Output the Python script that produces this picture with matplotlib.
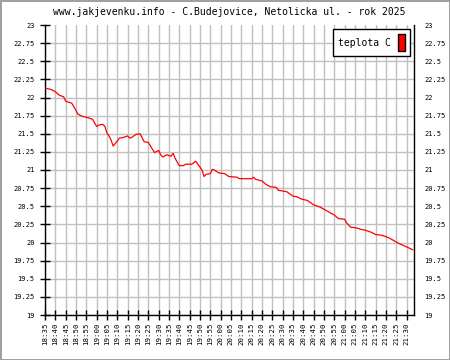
# teplota - C.Budejovice, Netolicka ul.
import matplotlib
matplotlib.use('Agg')
import matplotlib.pyplot as plt
from matplotlib.patches import Rectangle

# minuty od 18:35 a namerene teploty
minuty = [0, 3, 5, 7, 9, 10, 13, 14, 16, 18, 21, 23, 24, 25, 26, 28, 29, 30, 31, 32,
          33, 35, 36, 38, 40, 41, 42, 44, 46, 48, 50, 53, 55, 56, 57, 59, 61, 62, 63, 65,
          67, 68, 71, 72, 73, 74, 76, 77, 78, 80, 81, 82, 84, 87, 89, 93, 94, 100, 101, 102,
          105, 107, 109, 112, 113, 117, 120, 122, 124, 127, 130, 133, 135, 138, 140, 142, 145, 146, 148, 151,
          153, 155, 158, 160, 163, 166, 168, 171, 175, 178]
teplota = [22.13, 22.11, 22.08, 22.03, 22.01, 21.95, 21.92, 21.87, 21.77, 21.74, 21.72, 21.70, 21.65, 21.60, 21.62, 21.63, 21.60, 21.51, 21.47, 21.41,
           21.33, 21.40, 21.44, 21.45, 21.47, 21.44, 21.45, 21.49, 21.50, 21.39, 21.38, 21.24, 21.27, 21.21, 21.18, 21.21, 21.19, 21.23, 21.16, 21.06,
           21.06, 21.08, 21.08, 21.10, 21.12, 21.08, 21.00, 20.91, 20.94, 20.95, 21.01, 21.00, 20.96, 20.95, 20.91, 20.90, 20.88, 20.88, 20.90, 20.87,
           20.85, 20.80, 20.77, 20.76, 20.72, 20.70, 20.64, 20.63, 20.60, 20.58, 20.52, 20.49, 20.46, 20.41, 20.38, 20.33, 20.32, 20.27, 20.21, 20.20,
           20.18, 20.17, 20.14, 20.11, 20.10, 20.07, 20.04, 19.99, 19.94, 19.90]

casy = ['18:35', '18:40', '18:45', '18:50', '18:55', '19:00', '19:05', '19:10', '19:15', '19:20',
        '19:25', '19:30', '19:35', '19:40', '19:45', '19:50', '19:55', '20:00', '20:05', '20:10',
        '20:15', '20:20', '20:25', '20:30', '20:35', '20:40', '20:45', '20:50', '20:55', '21:00',
        '21:05', '21:10', '21:15', '21:20', '21:25', '21:30']
y_ticks = [19 + 0.25 * i for i in range(17)]
y_labels = ['%g' % v for v in y_ticks]

mono = 'DejaVu Sans Mono'
fig = plt.figure(figsize=(4.5, 3.6), dpi=100)
fig.patch.set_edgecolor('#a0a0a0')
fig.patch.set_linewidth(2)
ax = fig.add_axes([45 / 450, 1 - 315 / 360, 369 / 450, 290 / 360])

ax.plot(minuty, teplota, color='red', lw=0.9, zorder=3)

x_ticks = [5 * i for i in range(len(casy))]
ax.set_xticks(x_ticks)
ax.set_xticklabels(casy, rotation=90, family=mono, fontsize=5.3)
ax.set_yticks(y_ticks)
ax.set_yticklabels(y_labels, family=mono, fontsize=5)
ax.set_xlim(0, 178.6)
ax.set_ylim(19, 23)
ax.grid(True, color='#c0c0c0', lw=1)
ax.set_axisbelow(True)
# bez vodorovne cary nahore
ax.get_ygridlines()[-1].set_visible(False)

ax.tick_params(axis='both', direction='inout', length=7, width=1, pad=2)
ax.tick_params(axis='y', right=False, labelright=True, pad=4)
for s in ['left', 'bottom', 'right']:
    ax.spines[s].set_color('black')
    ax.spines[s].set_linewidth(1)
ax.spines['top'].set_visible(False)

ax.set_title('www.jakjevenku.info - C.Budejovice, Netolicka ul. - rok 2025',
             family=mono, fontsize=7, pad=7)

h = Rectangle((0, 0), 1, 1, facecolor='red', edgecolor='black', lw=1)
leg = ax.legend([h], ['teplota C'], loc='upper right', markerfirst=False,
                handlelength=0.7, handleheight=2.4, handletextpad=0.8,
                prop={'family': mono, 'size': 7}, fancybox=False,
                framealpha=1, edgecolor='black', borderaxespad=0.4, borderpad=0.5)
leg.get_frame().set_linewidth(1)

fig.savefig('out.png', dpi=100)
